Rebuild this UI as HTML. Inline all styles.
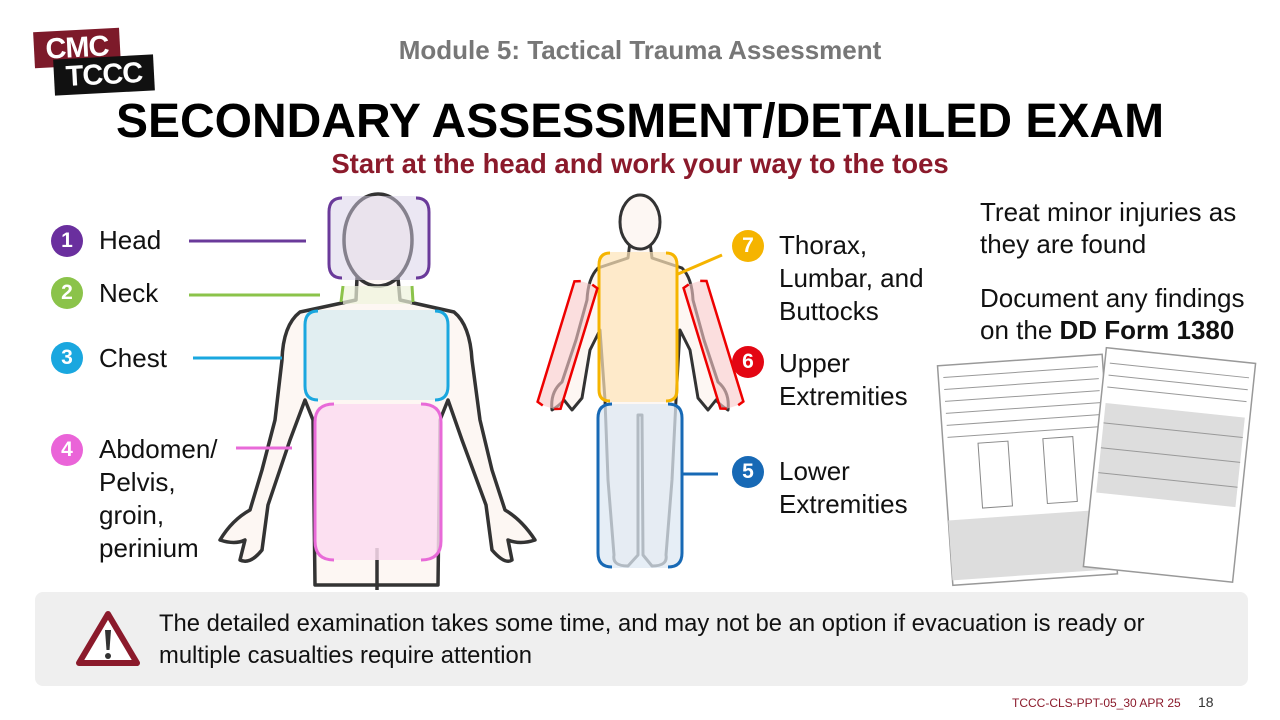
<!DOCTYPE html>
<html><head><meta charset="utf-8"><style>
body{margin:0;width:1280px;height:720px;background:#fff;position:relative;overflow:hidden;font-family:"Liberation Sans",Arial,sans-serif;}
.a{position:absolute;white-space:nowrap;}
.lbl{font-size:26px;color:#111;line-height:33px;}
.c{position:absolute;width:32px;height:32px;border-radius:50%;color:#fff;font-weight:bold;font-size:21px;text-align:center;line-height:32px;}
</style></head><body>
<!-- logo -->
<div class="a" style="left:34px;top:30px;width:86px;height:36px;background:#7d1a2a;transform:rotate(-3deg);color:#fff;font-weight:900;font-size:29px;line-height:36px;text-align:center;letter-spacing:-1px;">CMC</div>
<div class="a" style="left:54px;top:57px;width:100px;height:36px;background:#111;transform:rotate(-3deg);color:#fff;font-weight:900;font-size:29px;line-height:36px;text-align:center;letter-spacing:-1px;">TCCC</div>

<div class="a" style="left:0;width:1280px;text-align:center;top:35px;font-size:26px;font-weight:bold;color:#777;">Module 5: Tactical Trauma Assessment</div>
<div class="a" style="left:0;width:1280px;text-align:center;top:94px;font-size:48px;font-weight:bold;color:#000;">SECONDARY ASSESSMENT/DETAILED EXAM</div>
<div class="a" style="left:0;width:1280px;text-align:center;top:148px;font-size:27.5px;font-weight:bold;color:#8b1a2b;">Start at the head and work your way to the toes</div>

<svg class="a" style="left:0;top:0" width="1280" height="720">
<!-- front body -->
<g fill="#fdf7f3" stroke="#333" stroke-width="3.5" stroke-linejoin="round">
<path d="M357,278 L356,300 L300,312 Q283,325 282,360 L275,420 L262,470 L250,510 Q232,520 220,540 Q235,545 245,540 L240,560 Q250,565 262,550 L268,505 L290,440 L305,400 L313,420 L315,585 L438,585 L440,420 L448,400 L462,440 L486,505 L492,550 Q505,565 512,560 L508,540 Q520,545 535,540 Q522,520 505,510 L492,470 L480,420 L472,360 Q470,325 454,312 L400,300 L398,278 Z"/>
<ellipse cx="378" cy="240" rx="34" ry="46"/>
</g>
<line x1="377" y1="548" x2="377" y2="590" stroke="#333" stroke-width="3.5"/>
<rect x="330" y="196" width="99" height="84" rx="12" fill="#d8cfe8" opacity=".5"/>
<path d="M342,198 Q329,198 329,212 L329,264 Q329,278 342,278 M416,198 Q429,198 429,212 L429,264 Q429,278 416,278" fill="none" stroke="#6a3a9a" stroke-width="3"/>
<rect x="343" y="286" width="69" height="18" fill="#eef3dc" opacity=".7"/>
<path d="M343,286 L341,302 M412,286 L413,302" stroke="#8bc34a" stroke-width="3"/>
<rect x="305" y="310" width="143" height="90" rx="14" fill="#dcecf0" opacity=".85"/>
<path d="M318,311 Q305,311 305,325 L305,386 Q305,400 318,400 M435,311 Q448,311 448,325 L448,386 Q448,400 435,400" fill="none" stroke="#1aa7df" stroke-width="3"/>
<rect x="315" y="404" width="126" height="156" rx="16" fill="#fcdcf0" opacity=".85"/>
<path d="M334,404 Q315,404 315,422 L315,541 Q315,560 334,560 M421,404 Q441,404 441,422 L441,541 Q441,560 421,560" fill="none" stroke="#e86ad8" stroke-width="3"/>
<!-- back body -->
<g fill="#fdf7f3" stroke="#333" stroke-width="3" stroke-linejoin="round">
<path d="M630,242 L628,258 L598,268 Q588,278 587,300 L576,340 L562,382 Q550,392 552,410 Q560,405 564,400 L572,410 L582,398 L590,350 L600,330 L605,400 L608,480 L614,555 Q612,566 628,566 L638,555 L638,415 L642,415 L643,555 L652,566 Q668,566 666,555 L672,480 L676,400 L680,330 L690,350 L698,398 L708,410 L716,400 Q720,405 728,410 Q730,392 718,382 L704,340 L693,300 Q692,278 682,268 L652,258 L650,242 Z"/>
<ellipse cx="640" cy="222" rx="20" ry="27"/>
</g>
<rect x="598" y="252" width="80" height="150" rx="10" fill="#fde4b8" opacity=".7"/>
<path d="M610,253 Q599,253 599,265 L599,390 Q599,401 610,401 M666,253 Q677,253 677,265 L677,390 Q677,401 666,401" fill="none" stroke="#f5b400" stroke-width="3"/>
<g transform="rotate(17 568 340)"><rect x="557" y="280" width="24" height="130" rx="6" fill="#f9c8c8" opacity=".6"/><path d="M563,280 L557,282 L557,408 L563,410 M575,280 L581,282 L581,408 L575,410" fill="none" stroke="#e00" stroke-width="2.5"/></g>
<g transform="rotate(-17 712 340)"><rect x="700" y="280" width="24" height="130" rx="6" fill="#f9c8c8" opacity=".6"/><path d="M706,280 L700,282 L700,408 L706,410 M718,280 L724,282 L724,408 L718,410" fill="none" stroke="#e00" stroke-width="2.5"/></g>
<rect x="598" y="404" width="84" height="164" rx="12" fill="#dde8f3" opacity=".75"/>
<path d="M612,404 Q598,404 598,418 L598,553 Q598,567 612,567 M668,404 Q682,404 682,418 L682,553 Q682,567 668,567" fill="none" stroke="#1769b5" stroke-width="3"/>
<!-- leader lines -->
<line x1="189" y1="241" x2="306" y2="241" stroke="#6a3a9a" stroke-width="3"/>
<line x1="189" y1="295" x2="320" y2="295" stroke="#8bc34a" stroke-width="3"/>
<line x1="193" y1="358" x2="282" y2="358" stroke="#1aa7df" stroke-width="3"/>
<line x1="236" y1="448" x2="292" y2="448" stroke="#e86ad8" stroke-width="3"/>
<line x1="678" y1="274" x2="722" y2="255" stroke="#f5b400" stroke-width="3"/>
<line x1="682" y1="474" x2="718" y2="474" stroke="#1769b5" stroke-width="3"/>
<!-- form -->
<g transform="rotate(-4 1025 470)"><rect x="945" y="360" width="165" height="220" fill="#fff" stroke="#999" stroke-width="1.5"/>
<g stroke="#999" stroke-width="1"><line x1="950" y1="372" x2="1105" y2="372"/><line x1="950" y1="384" x2="1105" y2="384"/><line x1="950" y1="396" x2="1105" y2="396"/><line x1="950" y1="408" x2="1105" y2="408"/><line x1="950" y1="420" x2="1105" y2="420"/><line x1="950" y1="432" x2="1105" y2="432"/></g>
<rect x="980" y="440" width="30" height="65" fill="none" stroke="#888"/><rect x="1045" y="440" width="30" height="65" fill="none" stroke="#888"/>
<rect x="945" y="515" width="165" height="60" fill="#ddd"/></g>
<g transform="rotate(6 1170 460)"><rect x="1095" y="355" width="150" height="220" fill="#fff" stroke="#999" stroke-width="1.5"/>
<rect x="1100" y="410" width="140" height="90" fill="#ddd"/>
<g stroke="#999" stroke-width="1"><line x1="1100" y1="370" x2="1240" y2="370"/><line x1="1100" y1="382" x2="1240" y2="382"/><line x1="1100" y1="394" x2="1240" y2="394"/><line x1="1100" y1="430" x2="1240" y2="430"/><line x1="1100" y1="455" x2="1240" y2="455"/><line x1="1100" y1="480" x2="1240" y2="480"/></g></g>
</svg>

<div class="c" style="left:51px;top:225px;background:#6a2f9e">1</div>
<div class="c" style="left:51px;top:277px;background:#8bc34a">2</div>
<div class="c" style="left:51px;top:342px;background:#1aa7df">3</div>
<div class="c" style="left:51px;top:434px;background:#ea64d8">4</div>
<div class="c" style="left:732px;top:230px;background:#f5b400">7</div>
<div class="c" style="left:732px;top:346px;background:#e30613">6</div>
<div class="c" style="left:732px;top:456px;background:#1769b5">5</div>

<div class="a lbl" style="left:99px;top:224px">Head</div>
<div class="a lbl" style="left:99px;top:277px">Neck</div>
<div class="a lbl" style="left:99px;top:342px">Chest</div>
<div class="a lbl" style="left:99px;top:433px">Abdomen/<br>Pelvis,<br>groin,<br>perinium</div>
<div class="a lbl" style="left:779px;top:229px">Thorax,<br>Lumbar, and<br>Buttocks</div>
<div class="a lbl" style="left:779px;top:347px">Upper<br>Extremities</div>
<div class="a lbl" style="left:779px;top:455px">Lower<br>Extremities</div>
<div class="a lbl" style="left:980px;top:196px;line-height:32px">Treat minor injuries as<br>they are found</div>
<div class="a lbl" style="left:980px;top:282px;line-height:32px">Document any findings<br>on the <b>DD Form 1380</b></div>

<div class="a" style="left:35px;top:592px;width:1213px;height:94px;background:#efefef;border-radius:8px;"></div>
<svg class="a" style="left:74px;top:608px" width="68" height="60"><path d="M34,6 L63,55 L5,55 Z" fill="#fff" stroke="#8b1a2b" stroke-width="6" stroke-linejoin="round"/><path d="M31,22 L37,22 L35.5,42 L32.5,42 Z" fill="#333"/><circle cx="34" cy="48" r="3" fill="#333"/></svg>
<div class="a" style="left:159px;top:608px;font-size:23.8px;line-height:32px;color:#111">The detailed examination takes some time, and may not be an option if evacuation is ready or<br>multiple casualties require attention</div>
<div class="a" style="left:1012px;top:696px;font-size:12px;color:#8b1a2b">TCCC-CLS-PPT-05_30 APR 25</div>
<div class="a" style="left:1198px;top:694px;font-size:14px;color:#333">18</div>
</body></html>
